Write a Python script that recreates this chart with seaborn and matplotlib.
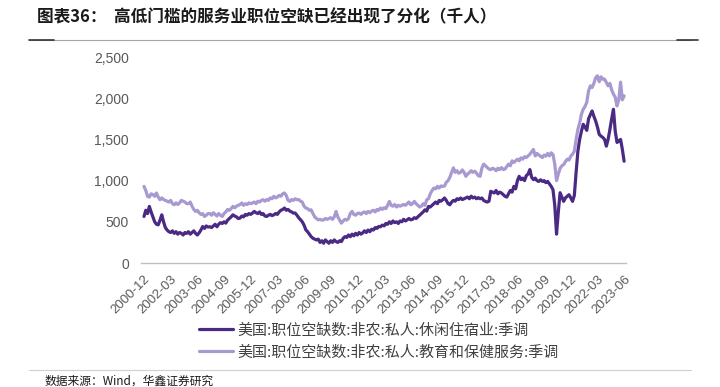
import pandas as pd
import seaborn as sns
import matplotlib
matplotlib.use('Agg')
import matplotlib.pyplot as plt
from matplotlib.lines import Line2D

# monthly job openings (thousands), 2000-12 .. 2023-06
leisure = [
    565,
    640, 600, 687, 620, 560, 500, 470, 463, 520, 585, 500, 430,  # 2001
    400, 380, 370, 390, 360, 380, 350, 370, 360, 340, 370, 360,  # 2002
    380, 350, 370, 390, 360, 340, 366, 400, 443, 420, 450, 436,  # 2003
    440, 430, 450, 470, 440, 470, 490, 480, 500, 484, 520, 540,  # 2004
    560, 585, 570, 560, 540, 545, 570, 560, 590, 580, 600, 590,  # 2005
    606, 626, 610, 600, 620, 590, 600, 570, 565, 580, 590, 575,  # 2006
    585, 600, 590, 620, 640, 650, 667, 640, 650, 630, 620, 606,  # 2007
    606, 580, 550, 524, 500, 460, 402, 380, 350, 320, 300, 290,  # 2008
    280, 290, 250, 270, 240, 280, 260, 240, 270, 250, 280, 260,  # 2009
    250, 270, 260, 300, 320, 310, 340, 320, 350, 330, 360, 340,  # 2010
    370, 350, 366, 390, 370, 400, 380, 410, 400, 430, 420, 443,  # 2011
    440, 460, 450, 480, 470, 500, 480, 510, 490, 500, 480, 510,  # 2012
    500, 530, 510, 524, 540, 524, 530, 550, 540, 560, 580, 600,  # 2013
    620, 646, 630, 687, 680, 700, 720, 740, 720, 760, 750, 768,  # 2014
    789, 760, 720, 707, 740, 760, 750, 780, 770, 789, 770, 780,  # 2015
    790, 800, 780, 811, 790, 800, 780, 793, 780, 789, 760, 748,  # 2016
    740, 750, 870, 860, 850, 880, 840, 860, 850, 830, 810, 800,  # 2017
    840, 880, 860, 930, 900, 1000, 1052, 1012, 1030, 1000, 1060, 1080,  # 2018
    1134, 1040, 1012, 1030, 1000, 990, 1010, 991, 1000, 975, 990, 960,  # 2019
    930, 890, 700, 350, 620, 853, 800, 748, 790, 810, 829, 790,  # 2020
    748, 820, 1100, 1357, 1500, 1600, 1683, 1650, 1610, 1750, 1800, 1845,  # 2021
    1780, 1723, 1650, 1561, 1540, 1524, 1500, 1418, 1500, 1620, 1750, 1866,  # 2022
    1600, 1463, 1480, 1500, 1380, 1235,  # 2023
]

edu_health = [
    930,
    880, 810, 800, 840, 830, 810, 850, 800, 768, 790, 770, 760,  # 2001
    750, 740, 760, 720, 707, 730, 710, 730, 760, 750, 740, 720,  # 2002
    720, 740, 690, 650, 626, 640, 610, 590, 600, 565, 580, 600,  # 2003
    600, 580, 610, 590, 570, 600, 580, 565, 600, 620, 650, 640,  # 2004
    660, 687, 670, 690, 700, 710, 728, 700, 720, 710, 730, 720,  # 2005
    728, 740, 720, 750, 740, 760, 768, 750, 770, 760, 790, 780,  # 2006
    809, 790, 800, 820, 810, 840, 850, 820, 760, 748, 770, 760,  # 2007
    780, 768, 770, 750, 740, 690, 667, 660, 640, 646, 600, 560,  # 2008
    540, 524, 530, 520, 524, 540, 530, 540, 550, 530, 560, 626,  # 2009
    560, 520, 484, 510, 530, 520, 540, 600, 626, 590, 580, 600,  # 2010
    606, 590, 610, 620, 600, 626, 610, 630, 640, 620, 650, 640,  # 2011
    667, 650, 670, 660, 700, 748, 700, 690, 710, 680, 700, 690,  # 2012
    700, 710, 700, 720, 740, 707, 720, 748, 720, 700, 680, 690,  # 2013
    720, 700, 768, 780, 840, 880, 910, 900, 930, 910, 935, 930,  # 2014
    935, 980, 1000, 1040, 1100, 1154, 1100, 1120, 1090, 1100, 1130, 1100,  # 2015
    1052, 1080, 1097, 1120, 1100, 1114, 1090, 1060, 1052, 1150, 1200, 1180,  # 2016
    1160, 1140, 1134, 1150, 1140, 1120, 1150, 1134, 1158, 1134, 1140, 1170,  # 2017
    1200, 1180, 1240, 1220, 1240, 1260, 1240, 1276, 1260, 1290, 1280, 1300,  # 2018
    1320, 1350, 1378, 1300, 1330, 1310, 1296, 1280, 1310, 1297, 1330, 1300,  # 2019
    1337, 1317, 1200, 1000, 1080, 1150, 1180, 1195, 1230, 1260, 1250, 1297,  # 2020
    1320, 1357, 1500, 1622, 1700, 1805, 1866, 1900, 1950, 2090, 2150, 2130,  # 2021
    2180, 2250, 2272, 2200, 2260, 2230, 2232, 2190, 2150, 2180, 2100, 2050,  # 2022
    2012, 1906, 1980, 2195, 1980, 2028,  # 2023
]

tick_labels = ['2000-12', '2002-03', '2003-06', '2004-09', '2005-12', '2007-03',
               '2008-06', '2009-09', '2010-12', '2012-03', '2013-06', '2014-09',
               '2015-12', '2017-03', '2018-06', '2019-09', '2020-12', '2022-03',
               '2023-06']
y_ticks = [0, 500, 1000, 1500, 2000, 2500]

label_leisure = '美国:职位空缺数:非农:私人:休闲住宿业:季调'
label_edu = '美国:职位空缺数:非农:私人:教育和保健服务:季调'
title = '图表36：  高低门槛的服务业职位空缺已经出现了分化（千人）'
source = '数据来源：Wind，华鑫证券研究'

months = list(pd.period_range('2000-12', '2023-06', freq='M').strftime('%Y-%m'))
df = pd.DataFrame({'month': months, 'idx': range(len(months)),
                   'leisure': leisure, 'edu': edu_health})

dark = '#4b2a84'
light = '#a89ad0'

sns.set_theme(style='white')
plt.rcParams['font.family'] = ['Noto Sans CJK SC', 'DejaVu Sans']

fig = plt.figure(figsize=(7.2, 3.87), dpi=100)
ax = fig.add_axes([0.1963, 0.3204, 0.673, 0.5323])

sns.lineplot(data=df, x='idx', y='edu', color=light, linewidth=2.3, ax=ax)
sns.lineplot(data=df, x='idx', y='leisure', color=dark, linewidth=2.3, ax=ax)

ax.set_xlim(-1.5, len(months))
ax.set_ylim(0, 2500)
ax.set_xlabel('')
ax.set_ylabel('')

tick_pos = [months.index(t) for t in tick_labels]
ax.set_xticks(tick_pos)
ax.set_xticklabels(tick_labels, rotation=45, ha='right', rotation_mode='anchor',
                   fontsize=9.5, color='#595959', family='Liberation Sans')
ax.set_yticks(y_ticks)
ax.set_yticklabels([f'{v:,}' for v in y_ticks], fontsize=10, color='#595959',
                   family='Liberation Sans')

for s in ['top', 'right', 'left']:
    ax.spines[s].set_visible(False)
ax.spines['bottom'].set_color('#bfbfbf')
ax.spines['bottom'].set_linewidth(1)
ax.tick_params(axis='x', direction='out', length=4, width=1, color='#bfbfbf', pad=3)
ax.tick_params(axis='y', length=0, pad=9)

# legend below the plot
handles = [Line2D([0], [0], color=dark, lw=2.3), Line2D([0], [0], color=light, lw=2.3)]
fig.legend(handles, [label_leisure, label_edu], loc='upper left',
           bbox_to_anchor=(0.268, 0.18), frameon=False, fontsize=10.8,
           labelcolor='#404040', handlelength=2.3, handletextpad=0.25,
           labelspacing=0.5, borderaxespad=0)

# title and rules
fig.text(0.051, 0.955, title, fontsize=12, fontweight='bold', color='#1a1a1a', va='center')
fig.add_artist(Line2D([0.04, 0.96], [0.897, 0.897], color='#a6a6a6', lw=0.8))
fig.add_artist(Line2D([0.04, 0.075], [0.897, 0.897], color='#333333', lw=1.2))
fig.add_artist(Line2D([0.94, 0.97], [0.897, 0.897], color='#333333', lw=1.2))
fig.add_artist(Line2D([0.04, 0.96], [0.043, 0.043], color='#d0d0d0', lw=0.8))
fig.text(0.062, 0.033, source, fontsize=8.5, color='#1a1a1a', va='top')

fig.savefig('out.png', dpi=100)
